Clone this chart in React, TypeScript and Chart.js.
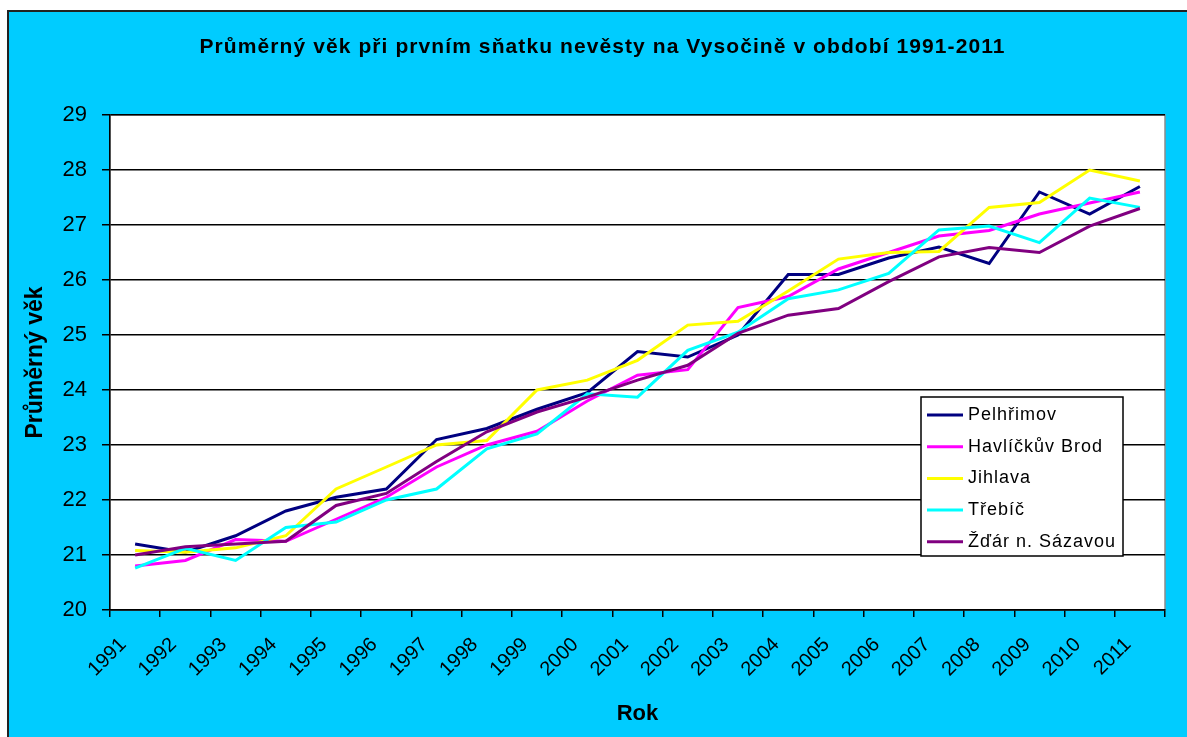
import { useEffect, useRef } from 'react';
import { Chart, registerables } from 'chart.js';

Chart.register(...registerables);

const years = ['1991', '1992', '1993', '1994', '1995', '1996', '1997', '1998', '1999', '2000', '2001', '2002', '2003', '2004', '2005', '2006', '2007', '2008', '2009', '2010', '2011'];

const pelhrimov = [21.2, 21.05, 21.35, 21.8, 22.05, 22.2, 23.1, 23.3, 23.65, 23.95, 24.7, 24.6, 25.0, 26.1, 26.1, 26.4, 26.6, 26.3, 27.6, 27.2, 27.7];
const havlickuvBrod = [20.8, 20.9, 21.28, 21.25, 21.65, 22.05, 22.6, 23.0, 23.25, 23.8, 24.27, 24.37, 25.5, 25.7, 26.2, 26.5, 26.8, 26.9, 27.2, 27.4, 27.6];
const jihlava = [21.08, 21.05, 21.13, 21.35, 22.2, 22.6, 23.0, 23.08, 24.0, 24.18, 24.54, 25.18, 25.25, 25.8, 26.38, 26.5, 26.52, 27.32, 27.41, 28.0, 27.8];
const trebic = [20.76, 21.12, 20.9, 21.5, 21.6, 22.0, 22.2, 22.93, 23.2, 23.93, 23.87, 24.72, 25.05, 25.66, 25.82, 26.12, 26.91, 26.98, 26.68, 27.49, 27.32];
const zdar = [21.0, 21.15, 21.2, 21.25, 21.9, 22.12, 22.7, 23.24, 23.6, 23.87, 24.18, 24.45, 25.03, 25.36, 25.48, 25.97, 26.42, 26.59, 26.5, 26.98, 27.3];

const seriesNames = ['Pelhřimov', 'Havlíčkův Brod', 'Jihlava', 'Třebíč', 'Žďár n. Sázavou'];
const seriesData = [pelhrimov, havlickuvBrod, jihlava, trebic, zdar];
const seriesColors = ['#000080', '#FF00FF', '#FFFF00', '#00FFFF', '#800080'];

const chartTitle = 'Průměrný věk při prvním sňatku nevěsty na Vysočině v období 1991-2011';
const yTitle = 'Průměrný věk';
const xTitle = 'Rok';
const yMin = 20;
const yMax = 29;

const FONT = '"Liberation Sans", Arial, sans-serif';

const plotBg = {
  id: 'plotBg',
  beforeDraw(chart: any) {
    const { ctx, chartArea: a } = chart;
    ctx.save();
    ctx.fillStyle = '#ffffff';
    ctx.fillRect(a.left, a.top, a.right - a.left, a.bottom - a.top);
    ctx.strokeStyle = '#8c8c8c';
    ctx.lineWidth = 1.5;
    ctx.strokeRect(a.left, a.top, a.right - a.left, a.bottom - a.top);
    ctx.restore();
  },
};

const titleLegend = {
  id: 'titleLegend',
  afterDraw(chart: any) {
    const { ctx } = chart;
    ctx.save();
    // title
    ctx.font = `bold 21px ${FONT}`;
    ctx.fillStyle = '#000';
    ctx.textBaseline = 'middle';
    ctx.textAlign = 'left';
    const target = 805;
    const w0 = ctx.measureText(chartTitle).width;
    const sp = Math.max(0, (target - w0) / (chartTitle.length - 1));
    (ctx as any).letterSpacing = `${sp}px`;
    ctx.fillText(chartTitle, 602 - target / 2, 47);
    (ctx as any).letterSpacing = '0px';

    // legend
    const lx = 921, ly = 397, lw = 202, lh = 159;
    ctx.fillStyle = '#fff';
    ctx.fillRect(lx, ly, lw, lh);
    ctx.strokeStyle = '#000';
    ctx.lineWidth = 1.5;
    ctx.strokeRect(lx, ly, lw, lh);
    ctx.font = `18px ${FONT}`;
    (ctx as any).letterSpacing = '1px';
    seriesNames.forEach((name, i) => {
      const y = 415 + i * 31.7;
      ctx.strokeStyle = seriesColors[i];
      ctx.lineWidth = 3;
      ctx.beginPath();
      ctx.moveTo(927, y);
      ctx.lineTo(963, y);
      ctx.stroke();
      ctx.fillStyle = '#000';
      ctx.fillText(name, 968, y);
    });
    (ctx as any).letterSpacing = '0px';
    ctx.restore();
  },
};

export default function App() {
  const ref = useRef<HTMLCanvasElement>(null);
  useEffect(() => {
    document.body.style.margin = '0';
    Chart.defaults.font.family = FONT;
    Chart.defaults.color = '#000';
    const chart = new Chart(ref.current!, {
      type: 'line',
      data: {
        labels: years,
        datasets: seriesNames.map((name, i) => ({
          label: name,
          data: seriesData[i],
          borderColor: seriesColors[i],
          backgroundColor: seriesColors[i],
          borderWidth: 3,
          pointRadius: 0,
          tension: 0,
          fill: false,
          order: seriesNames.length - i,
        })),
      },
      options: {
        responsive: false,
        animation: false,
        layout: { padding: { left: 0, right: 22, top: 115, bottom: 0 } },
        plugins: {
          legend: { display: false },
          title: { display: false },
          tooltip: { enabled: false },
        },
        scales: {
          x: {
            type: 'category',
            offset: true,
            grid: {
              offset: true,
              drawOnChartArea: false,
              drawTicks: true,
              tickLength: 7,
              color: '#000',
              tickColor: '#000',
              lineWidth: 1.5,
            },
            border: { display: true, color: '#000', width: 1.5 },
            ticks: {
              autoSkip: false,
              minRotation: 45,
              maxRotation: 45,
              labelOffset: -12,
              padding: 16,
              font: { size: 20 },
              color: '#000',
            },
            title: {
              display: true,
              text: xTitle,
              font: { size: 22, weight: 'bold' },
              padding: { top: 0, bottom: 10 },
              color: '#000',
            },
            afterFit(scale: any) {
              scale.height = 127;
            },
          },
          y: {
            min: yMin,
            max: yMax,
            ticks: { stepSize: 1, padding: 15, font: { size: 22 }, color: '#000' },
            grid: {
              color: '#000',
              tickColor: '#000',
              lineWidth: 1.5,
              tickLength: 8,
            },
            border: { display: true, color: '#000', width: 1.5 },
            title: {
              display: true,
              text: yTitle,
              font: { size: 23, weight: 'bold' },
              padding: { top: 22, bottom: 0 },
              color: '#000',
            },
            afterFit(scale: any) {
              scale.width = 110;
            },
          },
        },
      },
      plugins: [plotBg, titleLegend],
    } as any);
    return () => chart.destroy();
  }, []);
  return (
    <div style={{ position: 'relative', width: 1187, height: 737, background: '#fff', overflow: 'hidden' }}>
      <div
        style={{
          position: 'absolute',
          left: 7,
          top: 10,
          width: 1200,
          height: 740,
          background: '#00CCFF',
          borderLeft: '2px solid #222',
          borderTop: '2px solid #222',
        }}
      />
      <canvas ref={ref} width={1187} height={737} style={{ position: 'absolute', left: 0, top: 0 }} />
    </div>
  );
}
